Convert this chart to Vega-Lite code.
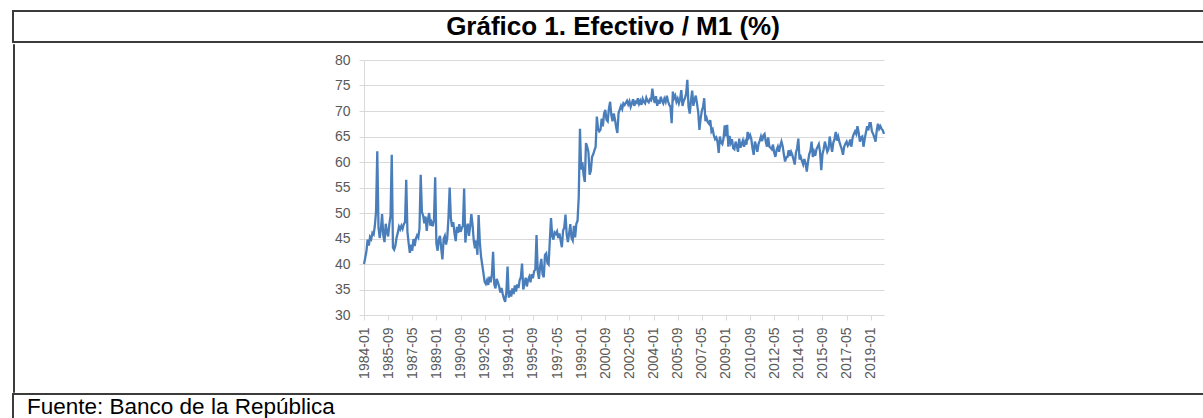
{
  "$schema": "https://vega.github.io/schema/vega-lite/v6.json",
  "padding": {"left": 12, "top": 10, "right": 0, "bottom": 0},
  "background": "white",
  "spacing": 0,
  "config": {"view": {"stroke": null}, "font": "Liberation Sans"},
  "vconcat": [
    {
      "width": 1200,
      "height": 31,
      "view": {"stroke": "#3b3b3b", "strokeWidth": 2},
      "data": {"values": [{"t": "Gráfico 1. Efectivo / M1 (%)"}]},
      "mark": {"type": "text", "font": "Liberation Sans", "fontWeight": "bold", "fontSize": 26, "baseline": "middle", "align": "center", "color": "#000000"},
      "encoding": {"text": {"field": "t"}}
    },
    {
      "spacing": 319,
      "hconcat": [
        {"width": 1, "height": 348, "view": {"stroke": "#3b3b3b", "strokeWidth": 1}, "data": {"values": []}, "mark": "point", "encoding": {}},
        {
          "spacing": 8,
          "vconcat": [
            {"width": 1, "height": 1, "data": {"values": []}, "mark": "point", "encoding": {}},
            {
              "width": 520,
              "height": 255,
              "view": {"stroke": null},
              "data": {"values": [
{"d":"1984-01","v":40.0},{"d":"1984-02","v":41.2},{"d":"1984-03","v":42.5},{"d":"1984-04","v":44.8},{"d":"1984-05","v":43.6},{"d":"1984-06","v":45.3},{"d":"1984-07","v":44.9},{"d":"1984-08","v":46.1},{"d":"1984-09","v":45.8},{"d":"1984-10","v":47.5},{"d":"1984-11","v":50.3},{"d":"1984-12","v":62.1},
{"d":"1985-01","v":47.2},{"d":"1985-02","v":45.1},{"d":"1985-03","v":46.8},{"d":"1985-04","v":49.8},{"d":"1985-05","v":45.6},{"d":"1985-06","v":44.3},{"d":"1985-07","v":47.9},{"d":"1985-08","v":46.2},{"d":"1985-09","v":45.4},{"d":"1985-10","v":47.8},{"d":"1985-11","v":49.5},{"d":"1985-12","v":61.4},
{"d":"1986-01","v":43.2},{"d":"1986-02","v":42.8},{"d":"1986-03","v":43.6},{"d":"1986-04","v":45.2},{"d":"1986-05","v":46.1},{"d":"1986-06","v":47.3},{"d":"1986-07","v":46.8},{"d":"1986-08","v":47.5},{"d":"1986-09","v":46.9},{"d":"1986-10","v":47.8},{"d":"1986-11","v":48.2},{"d":"1986-12","v":56.5},
{"d":"1987-01","v":46.3},{"d":"1987-02","v":44.1},{"d":"1987-03","v":42.2},{"d":"1987-04","v":43.8},{"d":"1987-05","v":42.6},{"d":"1987-06","v":44.9},{"d":"1987-07","v":43.5},{"d":"1987-08","v":45.0},{"d":"1987-09","v":45.6},{"d":"1987-10","v":45.2},{"d":"1987-11","v":47.0},{"d":"1987-12","v":57.5},
{"d":"1988-01","v":50.2},{"d":"1988-02","v":49.5},{"d":"1988-03","v":48.0},{"d":"1988-04","v":49.3},{"d":"1988-05","v":46.5},{"d":"1988-06","v":48.8},{"d":"1988-07","v":50.0},{"d":"1988-08","v":47.5},{"d":"1988-09","v":48.2},{"d":"1988-10","v":47.4},{"d":"1988-11","v":48.6},{"d":"1988-12","v":57.0},
{"d":"1989-01","v":44.0},{"d":"1989-02","v":42.6},{"d":"1989-03","v":44.8},{"d":"1989-04","v":45.5},{"d":"1989-05","v":43.0},{"d":"1989-06","v":40.9},{"d":"1989-07","v":44.9},{"d":"1989-08","v":45.5},{"d":"1989-09","v":43.8},{"d":"1989-10","v":45.1},{"d":"1989-11","v":49.0},{"d":"1989-12","v":55.0},
{"d":"1990-01","v":49.0},{"d":"1990-02","v":47.3},{"d":"1990-03","v":48.2},{"d":"1990-04","v":46.0},{"d":"1990-05","v":44.5},{"d":"1990-06","v":47.3},{"d":"1990-07","v":46.1},{"d":"1990-08","v":47.8},{"d":"1990-09","v":46.3},{"d":"1990-10","v":47.0},{"d":"1990-11","v":47.5},{"d":"1990-12","v":54.8},
{"d":"1991-01","v":44.2},{"d":"1991-02","v":46.8},{"d":"1991-03","v":47.9},{"d":"1991-04","v":45.5},{"d":"1991-05","v":47.4},{"d":"1991-06","v":49.8},{"d":"1991-07","v":47.6},{"d":"1991-08","v":44.5},{"d":"1991-09","v":43.1},{"d":"1991-10","v":44.6},{"d":"1991-11","v":41.8},{"d":"1991-12","v":49.6},
{"d":"1992-01","v":44.3},{"d":"1992-02","v":41.5},{"d":"1992-03","v":39.8},{"d":"1992-04","v":38.2},{"d":"1992-05","v":36.5},{"d":"1992-06","v":36.1},{"d":"1992-07","v":36.8},{"d":"1992-08","v":35.9},{"d":"1992-09","v":37.5},{"d":"1992-10","v":36.4},{"d":"1992-11","v":37.9},{"d":"1992-12","v":42.4},
{"d":"1993-01","v":36.0},{"d":"1993-02","v":35.2},{"d":"1993-03","v":37.1},{"d":"1993-04","v":36.4},{"d":"1993-05","v":35.6},{"d":"1993-06","v":34.4},{"d":"1993-07","v":35.3},{"d":"1993-08","v":34.1},{"d":"1993-09","v":33.2},{"d":"1993-10","v":32.6},{"d":"1993-11","v":34.5},{"d":"1993-12","v":39.5},
{"d":"1994-01","v":33.4},{"d":"1994-02","v":34.8},{"d":"1994-03","v":33.6},{"d":"1994-04","v":35.2},{"d":"1994-05","v":34.1},{"d":"1994-06","v":35.8},{"d":"1994-07","v":34.6},{"d":"1994-08","v":36.0},{"d":"1994-09","v":35.3},{"d":"1994-10","v":36.8},{"d":"1994-11","v":37.4},{"d":"1994-12","v":40.1},
{"d":"1995-01","v":35.0},{"d":"1995-02","v":36.2},{"d":"1995-03","v":37.3},{"d":"1995-04","v":35.6},{"d":"1995-05","v":36.9},{"d":"1995-06","v":37.5},{"d":"1995-07","v":36.4},{"d":"1995-08","v":38.0},{"d":"1995-09","v":37.2},{"d":"1995-10","v":38.6},{"d":"1995-11","v":38.9},{"d":"1995-12","v":45.7},
{"d":"1996-01","v":38.5},{"d":"1996-02","v":37.1},{"d":"1996-03","v":39.6},{"d":"1996-04","v":41.0},{"d":"1996-05","v":38.0},{"d":"1996-06","v":37.4},{"d":"1996-07","v":41.8},{"d":"1996-08","v":42.1},{"d":"1996-09","v":40.2},{"d":"1996-10","v":39.9},{"d":"1996-11","v":44.5},{"d":"1996-12","v":49.0},
{"d":"1997-01","v":45.5},{"d":"1997-02","v":44.8},{"d":"1997-03","v":46.2},{"d":"1997-04","v":45.9},{"d":"1997-05","v":46.4},{"d":"1997-06","v":45.1},{"d":"1997-07","v":46.0},{"d":"1997-08","v":44.6},{"d":"1997-09","v":43.3},{"d":"1997-10","v":46.5},{"d":"1997-11","v":47.2},{"d":"1997-12","v":49.7},
{"d":"1998-01","v":45.8},{"d":"1998-02","v":44.3},{"d":"1998-03","v":46.0},{"d":"1998-04","v":47.8},{"d":"1998-05","v":45.1},{"d":"1998-06","v":44.6},{"d":"1998-07","v":47.5},{"d":"1998-08","v":45.2},{"d":"1998-09","v":47.9},{"d":"1998-10","v":48.5},{"d":"1998-11","v":53.2},{"d":"1998-12","v":66.5},
{"d":"1999-01","v":58.5},{"d":"1999-02","v":60.0},{"d":"1999-03","v":57.5},{"d":"1999-04","v":56.1},{"d":"1999-05","v":63.7},{"d":"1999-06","v":63.0},{"d":"1999-07","v":62.0},{"d":"1999-08","v":57.5},{"d":"1999-09","v":58.3},{"d":"1999-10","v":61.0},{"d":"1999-11","v":61.5},{"d":"1999-12","v":62.3},
{"d":"2000-01","v":63.0},{"d":"2000-02","v":68.9},{"d":"2000-03","v":66.5},{"d":"2000-04","v":66.0},{"d":"2000-05","v":66.3},{"d":"2000-06","v":68.5},{"d":"2000-07","v":67.0},{"d":"2000-08","v":69.5},{"d":"2000-09","v":70.2},{"d":"2000-10","v":68.3},{"d":"2000-11","v":68.0},{"d":"2000-12","v":70.5},
{"d":"2001-01","v":71.8},{"d":"2001-02","v":69.2},{"d":"2001-03","v":68.0},{"d":"2001-04","v":69.5},{"d":"2001-05","v":68.4},{"d":"2001-06","v":66.8},{"d":"2001-07","v":65.7},{"d":"2001-08","v":69.6},{"d":"2001-09","v":70.3},{"d":"2001-10","v":71.0},{"d":"2001-11","v":70.4},{"d":"2001-12","v":71.5},
{"d":"2002-01","v":71.2},{"d":"2002-02","v":71.6},{"d":"2002-03","v":72.0},{"d":"2002-04","v":71.3},{"d":"2002-05","v":71.9},{"d":"2002-06","v":70.8},{"d":"2002-07","v":71.5},{"d":"2002-08","v":72.3},{"d":"2002-09","v":71.0},{"d":"2002-10","v":71.8},{"d":"2002-11","v":71.6},{"d":"2002-12","v":72.5},
{"d":"2003-01","v":71.4},{"d":"2003-02","v":72.0},{"d":"2003-03","v":71.2},{"d":"2003-04","v":72.4},{"d":"2003-05","v":71.8},{"d":"2003-06","v":71.5},{"d":"2003-07","v":72.6},{"d":"2003-08","v":72.0},{"d":"2003-09","v":71.7},{"d":"2003-10","v":72.3},{"d":"2003-11","v":72.1},{"d":"2003-12","v":74.4},
{"d":"2004-01","v":72.5},{"d":"2004-02","v":71.6},{"d":"2004-03","v":72.9},{"d":"2004-04","v":71.0},{"d":"2004-05","v":72.2},{"d":"2004-06","v":71.4},{"d":"2004-07","v":72.8},{"d":"2004-08","v":72.0},{"d":"2004-09","v":71.5},{"d":"2004-10","v":72.4},{"d":"2004-11","v":71.8},{"d":"2004-12","v":73.0},
{"d":"2005-01","v":71.9},{"d":"2005-02","v":71.2},{"d":"2005-03","v":70.8},{"d":"2005-04","v":67.6},{"d":"2005-05","v":73.8},{"d":"2005-06","v":72.5},{"d":"2005-07","v":73.0},{"d":"2005-08","v":71.8},{"d":"2005-09","v":72.4},{"d":"2005-10","v":71.5},{"d":"2005-11","v":72.3},{"d":"2005-12","v":74.1},
{"d":"2006-01","v":71.0},{"d":"2006-02","v":72.0},{"d":"2006-03","v":72.5},{"d":"2006-04","v":73.4},{"d":"2006-05","v":76.1},{"d":"2006-06","v":70.8},{"d":"2006-07","v":69.5},{"d":"2006-08","v":72.0},{"d":"2006-09","v":74.0},{"d":"2006-10","v":71.0},{"d":"2006-11","v":72.2},{"d":"2006-12","v":73.0},
{"d":"2007-01","v":71.5},{"d":"2007-02","v":69.8},{"d":"2007-03","v":66.3},{"d":"2007-04","v":68.5},{"d":"2007-05","v":70.0},{"d":"2007-06","v":70.8},{"d":"2007-07","v":72.5},{"d":"2007-08","v":68.0},{"d":"2007-09","v":68.6},{"d":"2007-10","v":67.8},{"d":"2007-11","v":67.5},{"d":"2007-12","v":68.2},
{"d":"2008-01","v":66.0},{"d":"2008-02","v":66.4},{"d":"2008-03","v":65.2},{"d":"2008-04","v":64.5},{"d":"2008-05","v":64.8},{"d":"2008-06","v":64.0},{"d":"2008-07","v":61.8},{"d":"2008-08","v":65.0},{"d":"2008-09","v":63.8},{"d":"2008-10","v":63.5},{"d":"2008-11","v":64.6},{"d":"2008-12","v":67.2},
{"d":"2009-01","v":65.0},{"d":"2009-02","v":67.3},{"d":"2009-03","v":63.0},{"d":"2009-04","v":65.1},{"d":"2009-05","v":63.8},{"d":"2009-06","v":64.5},{"d":"2009-07","v":62.7},{"d":"2009-08","v":62.5},{"d":"2009-09","v":64.0},{"d":"2009-10","v":63.2},{"d":"2009-11","v":62.0},{"d":"2009-12","v":64.6},
{"d":"2010-01","v":62.8},{"d":"2010-02","v":63.5},{"d":"2010-03","v":64.2},{"d":"2010-04","v":63.0},{"d":"2010-05","v":64.0},{"d":"2010-06","v":63.4},{"d":"2010-07","v":65.9},{"d":"2010-08","v":64.8},{"d":"2010-09","v":65.3},{"d":"2010-10","v":64.5},{"d":"2010-11","v":62.7},{"d":"2010-12","v":61.4},
{"d":"2011-01","v":64.0},{"d":"2011-02","v":63.2},{"d":"2011-03","v":62.0},{"d":"2011-04","v":63.5},{"d":"2011-05","v":64.2},{"d":"2011-06","v":65.0},{"d":"2011-07","v":64.1},{"d":"2011-08","v":65.2},{"d":"2011-09","v":65.5},{"d":"2011-10","v":64.0},{"d":"2011-11","v":63.0},{"d":"2011-12","v":64.8},
{"d":"2012-01","v":63.0},{"d":"2012-02","v":62.8},{"d":"2012-03","v":62.5},{"d":"2012-04","v":63.4},{"d":"2012-05","v":61.8},{"d":"2012-06","v":61.0},{"d":"2012-07","v":62.4},{"d":"2012-08","v":63.0},{"d":"2012-09","v":62.0},{"d":"2012-10","v":63.2},{"d":"2012-11","v":64.0},{"d":"2012-12","v":63.1},
{"d":"2013-01","v":61.5},{"d":"2013-02","v":60.1},{"d":"2013-03","v":60.9},{"d":"2013-04","v":61.0},{"d":"2013-05","v":62.3},{"d":"2013-06","v":61.2},{"d":"2013-07","v":62.0},{"d":"2013-08","v":61.4},{"d":"2013-09","v":60.5},{"d":"2013-10","v":59.5},{"d":"2013-11","v":61.8},{"d":"2013-12","v":62.7},
{"d":"2014-01","v":64.6},{"d":"2014-02","v":60.5},{"d":"2014-03","v":61.0},{"d":"2014-04","v":60.2},{"d":"2014-05","v":59.5},{"d":"2014-06","v":60.6},{"d":"2014-07","v":59.7},{"d":"2014-08","v":58.1},{"d":"2014-09","v":60.0},{"d":"2014-10","v":61.5},{"d":"2014-11","v":62.2},{"d":"2014-12","v":64.0},
{"d":"2015-01","v":61.0},{"d":"2015-02","v":62.0},{"d":"2015-03","v":61.2},{"d":"2015-04","v":62.5},{"d":"2015-05","v":63.0},{"d":"2015-06","v":63.5},{"d":"2015-07","v":62.0},{"d":"2015-08","v":58.4},{"d":"2015-09","v":61.5},{"d":"2015-10","v":62.5},{"d":"2015-11","v":64.0},{"d":"2015-12","v":63.0},
{"d":"2016-01","v":62.0},{"d":"2016-02","v":62.5},{"d":"2016-03","v":65.0},{"d":"2016-04","v":63.4},{"d":"2016-05","v":62.0},{"d":"2016-06","v":63.8},{"d":"2016-07","v":64.5},{"d":"2016-08","v":65.9},{"d":"2016-09","v":64.2},{"d":"2016-10","v":65.0},{"d":"2016-11","v":64.0},{"d":"2016-12","v":63.2},
{"d":"2017-01","v":62.5},{"d":"2017-02","v":61.4},{"d":"2017-03","v":63.0},{"d":"2017-04","v":63.6},{"d":"2017-05","v":64.0},{"d":"2017-06","v":63.2},{"d":"2017-07","v":63.5},{"d":"2017-08","v":64.4},{"d":"2017-09","v":63.0},{"d":"2017-10","v":64.8},{"d":"2017-11","v":65.5},{"d":"2017-12","v":66.0},
{"d":"2018-01","v":65.5},{"d":"2018-02","v":67.0},{"d":"2018-03","v":65.8},{"d":"2018-04","v":64.0},{"d":"2018-05","v":64.8},{"d":"2018-06","v":65.0},{"d":"2018-07","v":63.0},{"d":"2018-08","v":64.5},{"d":"2018-09","v":65.8},{"d":"2018-10","v":67.0},{"d":"2018-11","v":66.2},{"d":"2018-12","v":67.6},
{"d":"2019-01","v":67.6},{"d":"2019-02","v":66.0},{"d":"2019-03","v":65.5},{"d":"2019-04","v":64.8},{"d":"2019-05","v":64.0},{"d":"2019-06","v":66.2},{"d":"2019-07","v":67.5},{"d":"2019-08","v":66.5},{"d":"2019-09","v":67.0},{"d":"2019-10","v":66.5},{"d":"2019-11","v":66.2},{"d":"2019-12","v":65.5}
              ]},
              "mark": {"type": "line", "color": "#4a7ebb", "strokeWidth": 2.3},
              "encoding": {
                "x": {
                  "field": "d", "type": "ordinal",
                  "scale": {"type": "point", "padding": 0},
                  "axis": {
                    "values": ["1984-01","1985-09","1987-05","1989-01","1990-09","1992-05","1994-01","1995-09","1997-05","1999-01","2000-09","2002-05","2004-01","2005-09","2007-05","2009-01","2010-09","2012-05","2014-01","2015-09","2017-05","2019-01"],
                    "title": null, "labelAngle": -90, "labelFont": "Liberation Sans", "labelFontSize": 14,
                    "labelColor": "#595959", "labelPadding": 7, "tickColor": "#d9d9d9", "tickSize": 5,
                    "domainColor": "#d9d9d9", "grid": false
                  }
                },
                "y": {
                  "field": "v", "type": "quantitative",
                  "scale": {"domain": [30, 80], "nice": false, "zero": false},
                  "axis": {
                    "values": [30, 35, 40, 45, 50, 55, 60, 65, 70, 75, 80],
                    "title": null, "labelFont": "Liberation Sans", "labelFontSize": 14, "labelColor": "#595959",
                    "labelPadding": 9, "tickColor": "#d9d9d9", "tickSize": 5, "domainColor": "#d9d9d9",
                    "gridColor": "#d9d9d9"
                  }
                }
              }
            }
          ]
        }
      ]
    },
    {
      "width": 1200,
      "height": 39,
      "view": {"stroke": "#3b3b3b", "strokeWidth": 2},
      "data": {"values": [{"t": "Fuente: Banco de la República"}]},
      "mark": {"type": "text", "font": "Liberation Sans", "fontSize": 22.5, "align": "left", "baseline": "alphabetic", "dx": 14, "color": "#000000"},
      "encoding": {
        "x": {"datum": 0, "type": "quantitative", "scale": {"domain": [0, 1]}, "axis": null},
        "text": {"field": "t"}
      }
    }
  ]
}
